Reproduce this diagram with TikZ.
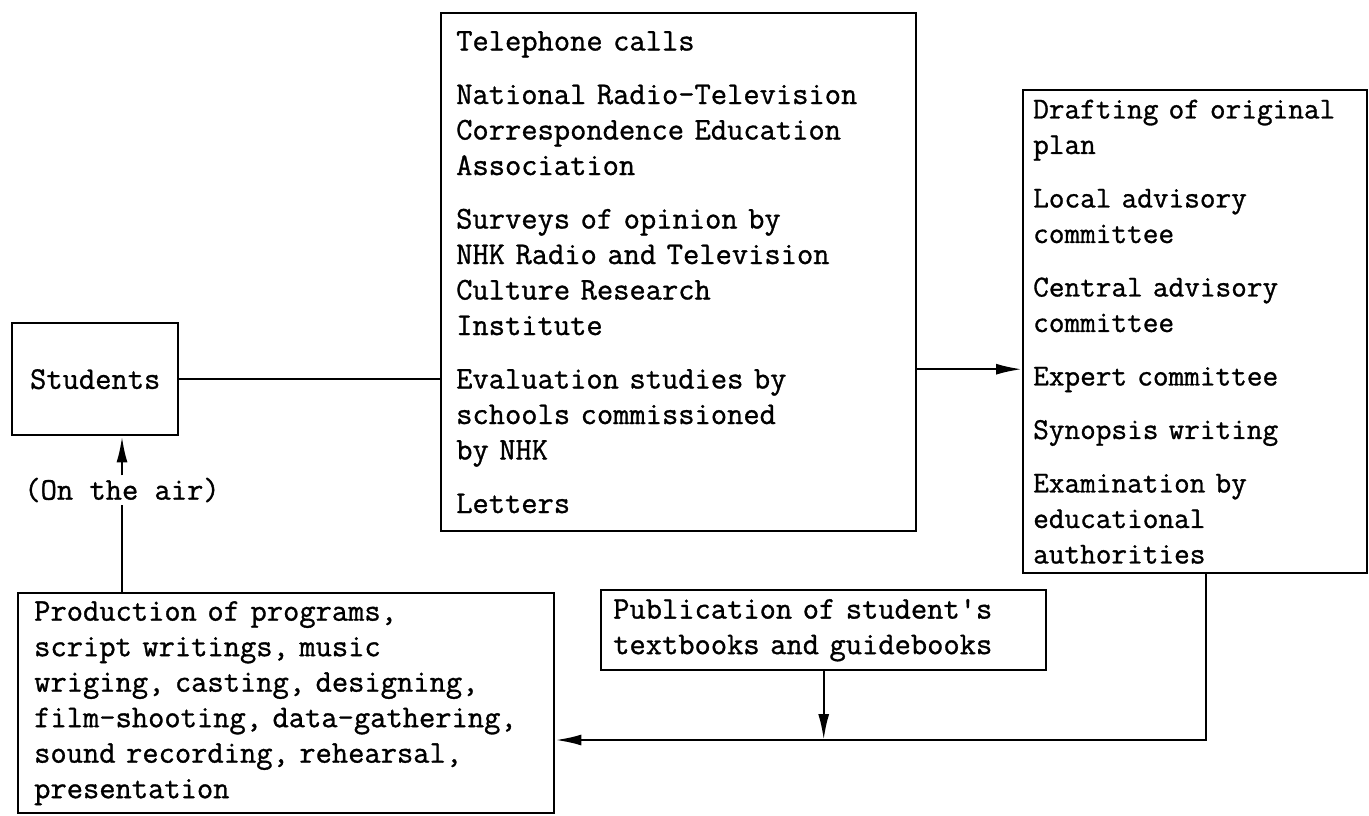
\documentclass[tikz,border=0pt]{standalone}
\usepackage{fontspec}
\usepackage{tikz}
\usetikzlibrary{arrows.meta,positioning,calc}
\newfontfamily\typewriter[FakeBold=1]{Latin Modern Mono}

\begin{document}
\begin{tikzpicture}[x=0.5pt,y=-0.5pt,
    box/.style={draw, line width=1.2pt, anchor=north west, align=left, inner ysep=0pt,
      font=\typewriter\fontsize{15.8}{17.75}\selectfont},
    link/.style={line width=1.2pt},
    flow/.style={line width=1.2pt, -{Latex[length=13pt,width=5.5pt]}}]
    \useasboundingbox (0,0) rectangle (1369,815);

    % Students
    \node[box, align=center, minimum width=83pt, minimum height=56pt] (students) at (11,322) {Students};

    % Sources of opinion
    \node[box, inner xsep=7.5pt, text width=222.5pt, minimum width=237.5pt, minimum height=259pt] (sources) at (440,12)
      {Telephone calls\\[9pt]
       National Radio-Television\\Correspondence Education\\Association\\[9pt]
       Surveys of opinion by\\NHK Radio and Television\\Culture Research\\Institute\\[9pt]
       Evaluation studies by\\schools commissioned\\by NHK\\[9pt]
       Letters};

    % Planning
    \node[box, font=\typewriter\fontsize{15.2}{17.75}\selectfont, inner xsep=5pt, text width=162pt,
      minimum width=172pt, minimum height=241.5pt] (plan) at (1022,89)
      {Drafting of original\\plan\\[9pt]
       Local advisory\\committee\\[9pt]
       Central advisory\\committee\\[9pt]
       Expert committee\\[9pt]
       Synopsis writing\\[9pt]
       Examination by\\educational\\authorities};

    % Production
    \node[box, inner xsep=8pt, text width=252pt, minimum width=268pt, minimum height=110pt] (production) at (17,592)
      {Production of programs,\\script writings, music\\wriging, casting, designing,\\film-shooting, data-gathering,\\sound recording, rehearsal,\\presentation};

    % Publication
    \node[box, inner xsep=6pt, text width=210.5pt, minimum width=222.5pt, minimum height=40pt] (publication) at (600,589)
      {Publication of student's\\textbooks and guidebooks};

    % Broadcast label
    \node[font=\typewriter\fontsize{15.8}{17.75}\selectfont, fill=white, inner sep=1pt] (air) at (122,490) {(On the air)};

    % Connectors
    \coordinate (merge) at (828,740);
    \draw[link] (students.east) -- (students.east -| sources.west);
    \draw[flow] ($(sources.east |- students.east)+(0,-10)$) -- ($(plan.west |- students.east)+(0,-10)$);
    \draw[flow] ($(plan.south)+(11,0)$) |- (production.east |- merge);
    \draw[flow] (publication.south) -- (publication.south |- merge);
    \draw[link] (production.north -| air) -- (air.south);
    \draw[flow] (air.north) -- (students.south -| air);
\end{tikzpicture}
\end{document}
